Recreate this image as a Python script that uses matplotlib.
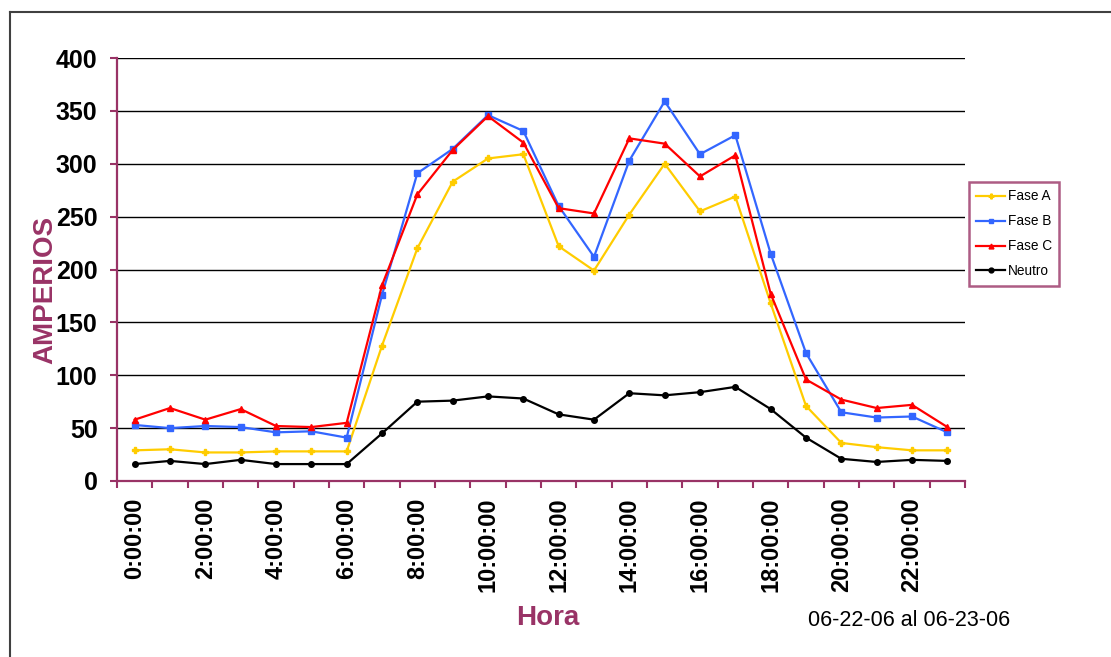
import matplotlib
matplotlib.use("Agg")
import matplotlib.pyplot as plt
from matplotlib.lines import Line2D
from matplotlib.ticker import FixedLocator, NullFormatter

horas = [f"{h}:00:00" for h in range(24)]
fase_a = [29, 30, 27, 27, 28, 28, 28, 128, 220, 283, 305, 309, 222, 199, 252, 300, 255, 269, 168, 71, 36, 32, 29, 29]
fase_b = [53, 50, 52, 51, 46, 47, 41, 176, 291, 314, 346, 331, 260, 212, 303, 359, 309, 327, 215, 121, 65, 60, 61, 46]
fase_c = [58, 69, 58, 68, 52, 51, 55, 185, 271, 313, 345, 320, 258, 253, 324, 319, 288, 308, 177, 96, 77, 69, 72, 51]
neutro = [16, 19, 16, 20, 16, 16, 16, 45, 75, 76, 80, 78, 63, 58, 83, 81, 84, 89, 68, 41, 21, 18, 20, 19]
yticks = [0, 50, 100, 150, 200, 250, 300, 350, 400]

PURPLE = "#993366"
W, H = 1111, 657
fig = plt.figure(figsize=(W / 100, H / 100), dpi=100)
ax = fig.add_axes([117 / W, 1 - 481 / H, (965 - 117) / W, (481 - 58) / H])

x = list(range(len(horas)))
series = [
    ("Fase A", fase_a, "#FFCC00", "P", 5),
    ("Fase B", fase_b, "#3366FF", "s", 4),
    ("Fase C", fase_c, "#FF0000", "^", 5),
    ("Neutro", neutro, "#000000", "o", 4),
]
for name, vals, col, mk, ms in series:
    ax.plot(x, vals, color=col, lw=1.6, marker=mk, ms=ms, mec=col, mfc=col, label=name, zorder=3)

ax.set_xlim(-0.5, len(horas) - 0.5)
ax.set_ylim(0, 400)
ax.set_yticks(yticks)
ax.yaxis.grid(True, color="black", lw=1.0)
ax.set_axisbelow(True)

for s in ["top", "right"]:
    ax.spines[s].set_visible(False)
for s in ["left", "bottom"]:
    ax.spines[s].set_color(PURPLE)
    ax.spines[s].set_linewidth(1.6)

ax.set_xticks(x[::2])
ax.set_xticklabels(horas[::2], rotation=90, fontsize=17, fontweight="bold",
                   family=["Liberation Sans", "DejaVu Sans"])
ax.xaxis.set_minor_locator(FixedLocator([i - 0.5 for i in range(len(horas) + 1)]))
ax.xaxis.set_minor_formatter(NullFormatter())
ax.tick_params(axis="x", which="major", length=0, pad=12)
ax.tick_params(axis="x", which="minor", length=5, width=1.5, color=PURPLE, direction="out")
ax.tick_params(axis="y", length=5, width=1.5, color=PURPLE, pad=9)
for lab in ax.get_yticklabels():
    lab.set_fontsize(18)
    lab.set_fontweight("bold")
    lab.set_family(["Liberation Sans", "DejaVu Sans"])

leg = ax.legend(loc="upper left", bbox_to_anchor=(969 / W, 1 - 182 / H), bbox_transform=fig.transFigure,
                prop={"family": ["Liberation Sans", "DejaVu Sans"], "size": 9.8},
                frameon=True, fancybox=False, borderpad=0.55, labelspacing=0.8,
                handlelength=2.1, handletextpad=0.2, borderaxespad=0)
leg.get_frame().set_edgecolor(PURPLE)
leg.get_frame().set_linewidth(1.8)
for h in leg.legend_handles:
    h.set_markersize(3.5)

fig.text(45 / W, 1 - 290 / H, "AMPERIOS", rotation=90, ha="center", va="center",
         fontsize=20, fontweight="bold", color=PURPLE, family=["Liberation Sans", "DejaVu Sans"])
fig.text(548 / W, 1 - 618 / H, "Hora", ha="center", va="center",
         fontsize=20, fontweight="bold", color=PURPLE, family=["Liberation Sans", "DejaVu Sans"])
fig.text(808 / W, 1 - 620 / H, "06-22-06 al 06-23-06", ha="left", va="center",
         fontsize=15.5, color="black", family=["Liberation Sans", "DejaVu Sans"])

# outer frame (left and top edges visible)
fig.add_artist(Line2D([10 / W, 10 / W], [0, 1 - 12 / H], transform=fig.transFigure, color="#404040", lw=1.5))
fig.add_artist(Line2D([10 / W, 1], [1 - 12 / H, 1 - 12 / H], transform=fig.transFigure, color="#404040", lw=1.5))

fig.savefig("out.png", dpi=100)
